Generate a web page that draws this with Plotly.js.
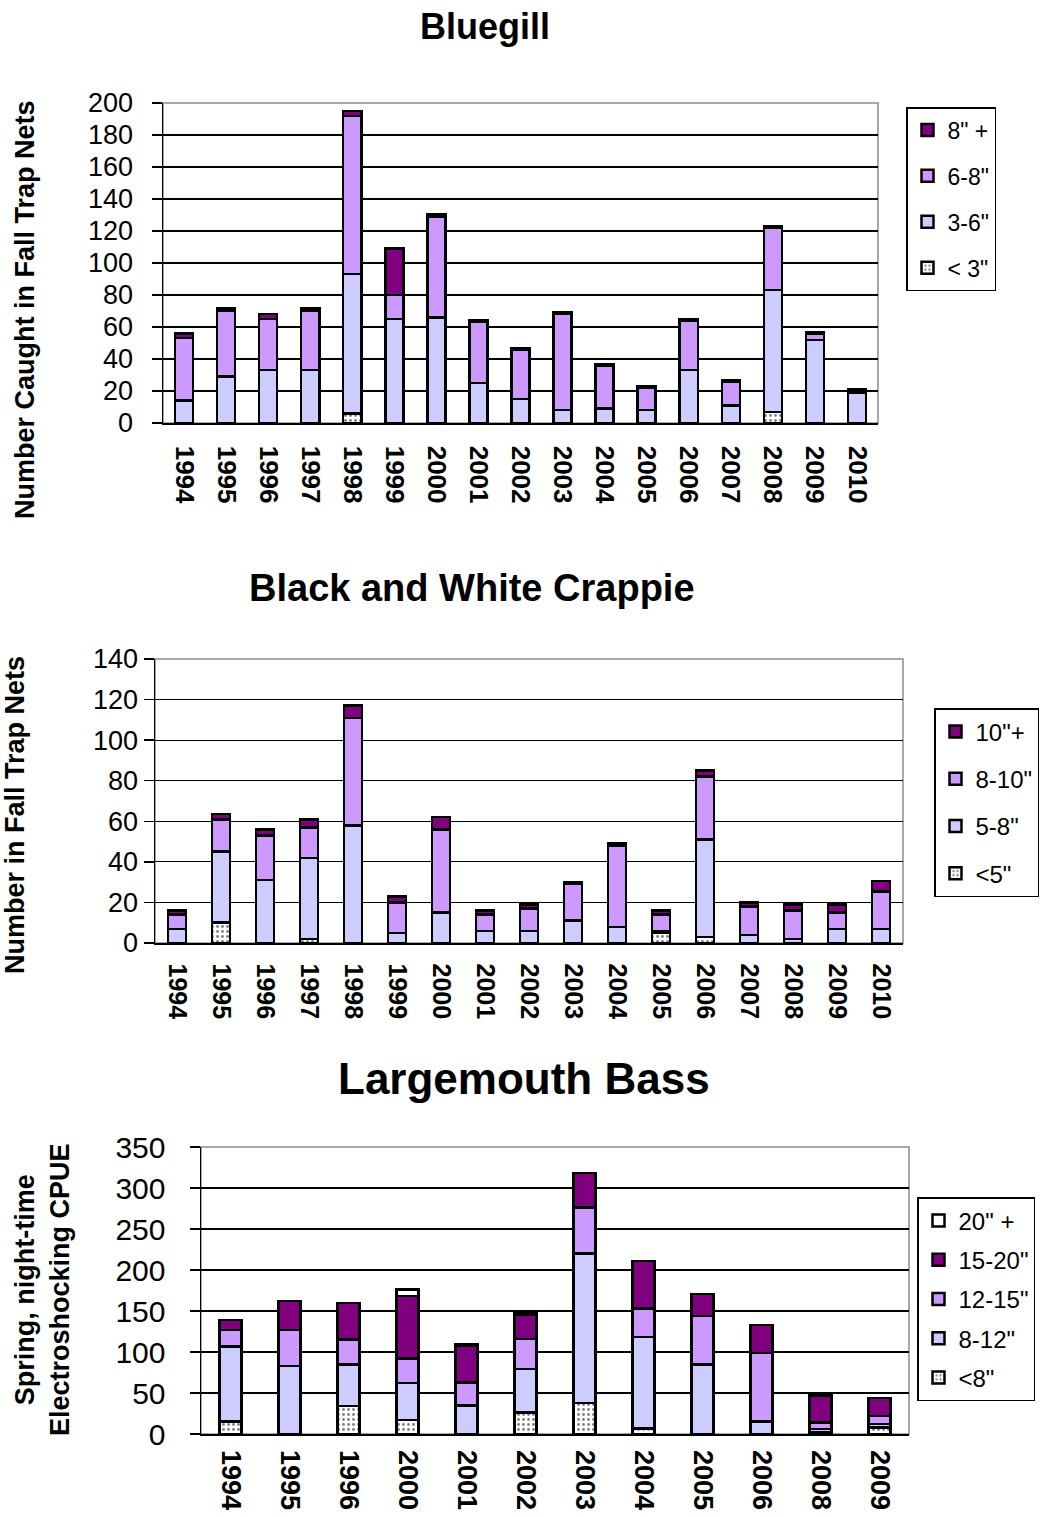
<!DOCTYPE html>
<html>
<head>
<meta charset="utf-8">
<script src="https://cdn.plot.ly/plotly-3.0.1.min.js"></script>
<style>html,body{margin:0;padding:0;background:#fff;}#chart{width:1054px;height:1517px;}</style>
</head>
<body>
<div id="chart"></div>
<script>
// ---------- Bluegill (fall trap nets) ----------
const bgYears = ["1994","1995","1996","1997","1998","1999","2000","2001","2002","2003","2004","2005","2006","2007","2008","2009","2010"];
const bgUnder3 = [0, 0, 0, 0, 6, 0, 0, 0, 0, 0, 0, 0, 0, 0, 7, 0, 0];
const bg3to6   = [14, 29, 33, 33, 87, 65, 66, 25, 15, 8, 9, 8, 33, 11, 76, 52, 19];
const bg6to8   = [39, 41, 32, 37, 99, 15, 63, 38, 31, 60, 27, 14, 31, 15, 39, 4, 0];
const bg8plus  = [3, 1.5, 3, 1.5, 3, 29, 1.5, 1, 1, 1, 1, 1, 1, 1, 1, 1, 2];
const bgLabels = ['< 3"', '3-6"', '6-8"', '8" +'];

// ---------- Black and White Crappie (fall trap nets) ----------
const crYears = ["1994","1995","1996","1997","1998","1999","2000","2001","2002","2003","2004","2005","2006","2007","2008","2009","2010"];
const crUnder5 = [0, 10, 0, 2, 0, 0, 0, 0, 0, 0, 0, 5, 3, 0, 0, 0, 0];
const cr5to8   = [7, 35, 31, 40, 58, 5, 15, 6, 6, 11, 8, 1, 48, 4, 2, 7, 7];
const cr8to10  = [7, 16, 22, 15, 53, 15, 41, 8, 11, 18, 40, 8, 31, 14, 14, 8, 18.5];
const cr10plus = [2, 2.5, 3, 4, 6, 3, 6, 2, 2, 1, 1, 2, 3, 2, 3, 4, 5];
const crLabels = ['<5"', '5-8"', '8-10"', '10"+'];

// ---------- Largemouth Bass (spring night electroshocking CPUE) ----------
const lmYears = ["1994","1995","1996","2000","2001","2002","2003","2004","2005","2006","2008","2009"];
const lmUnder8  = [15, 0, 34, 17, 0, 26, 38, 7, 0, 0, 2, 8];
const lm8to12   = [92, 83, 51, 45, 35, 53, 182, 111, 85, 15, 4, 4];
const lm12to15  = [20, 44, 30, 30, 28, 37, 56, 35, 59, 84, 8, 10];
const lm15to20  = [12, 35, 45, 76, 45, 30, 42, 58, 27, 34, 33, 22];
const lm20plus  = [0, 0, 0, 8, 2, 2, 0, 0, 0, 0, 0, 0];
const lmLabels = ['<8"', '8-12"', '12-15"', '15-20"', '20" +'];

const titles = ["Bluegill", "Black and White Crappie", "Largemouth Bass"];

// ---------- styling ----------
const W = 1054, H = 1517;
const px = x => x / W;
const py = y => 1 - y / H;
const FONT = "Liberation Sans, Arial, sans-serif";
const DARK = "#800080", MID = "#CC99FF", LIGHT = "#CCCCFF";

function seg(x, y, name, color, xa, ya, legend, width, rank, dotted) {
  const marker = {color: color, line: {color: "#000", width: 2.5}};
  if (dotted) {
    marker.color = "#fff";
    marker.pattern = {shape: ".", fgcolor: "#000", bgcolor: "#fff", size: 5, solidity: 0.25, fillmode: "overlay"};
  }
  return {type: "bar", x: x, y: y, name: name, marker: marker, xaxis: xa, yaxis: ya,
          legend: legend, legendgroup: legend + name, legendrank: rank, width: width, hoverinfo: "skip"};
}

const traces = [
  seg(bgYears, bgUnder3, bgLabels[0], "#fff", "x", "y", "legend", 0.43, 4, true),
  seg(bgYears, bg3to6, bgLabels[1], LIGHT, "x", "y", "legend", 0.43, 3),
  seg(bgYears, bg6to8, bgLabels[2], MID, "x", "y", "legend", 0.43, 2),
  seg(bgYears, bg8plus, bgLabels[3], DARK, "x", "y", "legend", 0.43, 1),

  seg(crYears, crUnder5, crLabels[0], "#fff", "x2", "y2", "legend2", 0.4, 4, true),
  seg(crYears, cr5to8, crLabels[1], LIGHT, "x2", "y2", "legend2", 0.4, 3),
  seg(crYears, cr8to10, crLabels[2], MID, "x2", "y2", "legend2", 0.4, 2),
  seg(crYears, cr10plus, crLabels[3], DARK, "x2", "y2", "legend2", 0.4, 1),

  seg(lmYears, lmUnder8, lmLabels[0], "#fff", "x3", "y3", "legend3", 0.38, 5, true),
  seg(lmYears, lm8to12, lmLabels[1], LIGHT, "x3", "y3", "legend3", 0.38, 4),
  seg(lmYears, lm12to15, lmLabels[2], MID, "x3", "y3", "legend3", 0.38, 3),
  seg(lmYears, lm15to20, lmLabels[3], DARK, "x3", "y3", "legend3", 0.38, 2),
  seg(lmYears, lm20plus, lmLabels[4], "#fff", "x3", "y3", "legend3", 0.38, 1)
];

function xax(domain, anchor, fs, standoff) {
  return {domain: domain, anchor: anchor, type: "category", showline: true, linecolor: "#000", linewidth: 1.5,
          tickangle: 90, tickfont: {family: FONT, size: fs, color: "#000", weight: "bold"},
          ticks: "", showgrid: false, fixedrange: true, ticklabelstandoff: standoff};
}
function yax(domain, anchor, max, dtick, fs, standoff) {
  return {domain: domain, anchor: anchor, range: [0, max], dtick: dtick, showline: true, linecolor: "#000", linewidth: 1.5,
          ticks: "outside", ticklen: 10, tickcolor: "#000", tickwidth: 1.5,
          showgrid: true, gridcolor: "#000", gridwidth: 1.2, zeroline: false,
          tickfont: {family: FONT, size: fs, color: "#000"}, fixedrange: true, ticklabelstandoff: standoff};
}

const d1x = [px(163), px(878)], d1y = [py(423), py(103)];
const d2x = [px(155), px(903)], d2y = [py(943), py(659)];
const d3x = [px(201), px(909)], d3y = [py(1434), py(1147)];

function frame(dx, dy) {
  return {type: "rect", xref: "paper", yref: "paper", x0: dx[0], x1: dx[1], y0: dy[0], y1: dy[1],
          line: {color: "#8c8c8c", width: 1.5}, layer: "below"};
}
function legendCfg(x, y, gap, fs) {
  return {x: x, y: y, xanchor: "left", yanchor: "top", bgcolor: "#fff", bordercolor: "#000", borderwidth: 1.5,
          font: {family: FONT, size: fs, color: "#000"}, traceorder: "grouped", tracegroupgap: gap,
          itemwidth: 30, itemclick: false, itemdoubleclick: false};
}
function ann(text, x, y, size, angle, bold) {
  return {text: text, x: px(x), y: py(y), xref: "paper", yref: "paper", showarrow: false,
          textangle: angle, xanchor: "center", yanchor: "middle",
          font: {family: FONT, size: size, color: "#000", weight: bold ? "bold" : "normal"}};
}

const layout = {
  width: W, height: H, margin: {l: 0, r: 0, t: 0, b: 0},
  paper_bgcolor: "#fff", plot_bgcolor: "#fff",
  barmode: "stack", showlegend: true,
  xaxis: xax(d1x, "y", 26, 16), yaxis: yax(d1y, "x", 200, 20, 27, 13),
  xaxis2: xax(d2x, "y2", 25, 14), yaxis2: yax(d2y, "x2", 140, 20, 27, 0),
  xaxis3: xax(d3x, "y3", 27, 9), yaxis3: yax(d3y, "x3", 350, 50, 30, 18),
  legend: legendCfg(px(906), py(107), 13, 23),
  legend2: legendCfg(px(934), py(708), 13, 24),
  legend3: legendCfg(px(917), py(1197), 5, 24),
  shapes: [frame(d1x, d1y), frame(d2x, d2y), frame(d3x, d3y)],
  annotations: [
    ann(titles[0], 485, 27, 36, 0, true),
    ann(titles[1], 472, 588, 38, 0, true),
    ann(titles[2], 524, 1078, 44, 0, true),
    ann("Number Caught in Fall Trap Nets", 25, 310, 27, -90, true),
    ann("Number in Fall Trap Nets", 15, 815, 27, -90, true),
    ann("Spring, night-time<br>Electroshocking CPUE", 42, 1290, 27, -90, true)
  ]
};

Plotly.newPlot("chart", traces, layout, {staticPlot: true, displayModeBar: false});
</script>
</body>
</html>
